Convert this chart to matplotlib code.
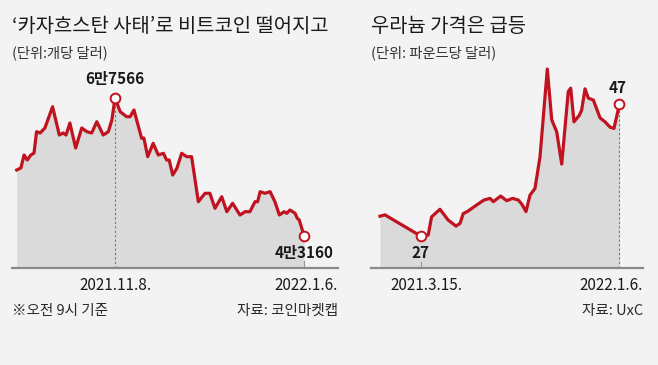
import matplotlib
matplotlib.use("Agg")
import matplotlib.pyplot as plt

plt.rcParams['font.family'] = ['Noto Sans CJK KR', 'DejaVu Sans']

# bitcoin, days counted from 2021-10-08 (USD per coin)
btc_days = [0, 1.3, 2.3, 3.3, 4.4, 5.4, 6.2, 7.3, 8.8, 11.2, 13.3, 14.5, 15.4, 16.6,
            18.4, 20.3, 21.9, 23.4, 25, 27, 28.6, 29.7, 30.7, 32.3, 34.3, 35.4, 36.6,
            39, 39.7, 40.9, 42.6, 44.2, 45.8, 46.8, 47.6, 48.7, 50, 51.5, 53.1, 54.6,
            56.7, 58.8, 60.3, 61.9, 64, 65.6, 67.4, 69.7, 71.3, 72.8, 74.4, 75.2, 76,
            77.5, 79.1, 80.6, 82, 83.5, 84.3, 85.3, 86.9, 87.6, 88.2, 89.7]
btc_vals = [54805, 55159, 57463, 56577, 57463, 57818, 61593, 61363, 62249, 66024,
            61008, 61363, 61008, 63135, 58704, 62249, 61593, 61363, 63365, 61008,
            61593, 63667, 67566, 65138, 64252, 64252, 65439, 60423, 60477, 57162,
            59537, 57463, 57765, 56577, 56577, 53919, 55106, 57765, 57162, 57162,
            49186, 50675, 50675, 48016, 50072, 47414, 48903, 46829, 47414, 47414,
            49186, 49186, 50959, 50675, 50959, 49186, 46829, 47414, 47130, 47715,
            47130, 46244, 45943, 43160]

# uranium, days counted from 2021-01-13 (USD per pound)
u_days = [0, 7.5, 12.4, 60.7, 72, 77, 89.5, 101.9, 113.4, 119.4, 124.3, 130.3, 144.3,
          155.2, 164.2, 169.1, 180.1, 189.1, 198, 206.4, 211.5, 217.9, 223.9, 231.3,
          238.8, 249.7, 256.3, 263.7, 271.2, 281, 284.6, 289.5, 297.5, 301, 306,
          310.9, 318.4, 328.4, 335.8, 343.3, 349.2, 357.4]
u_vals = [30.0, 30.2, 29.9, 27.0, 27.15, 29.9, 31.05, 29.4, 28.5, 28.9, 30.4, 30.7,
          31.7, 32.45, 32.7, 32.2, 33.05, 32.35, 32.7, 32.45, 31.85, 30.7, 33.2, 34.2,
          39.0, 52.3, 44.6, 42.8, 37.9, 48.9, 49.4, 44.3, 45.3, 46.1, 49.3, 47.9, 47.6,
          44.9, 44.3, 43.5, 43.3, 47.0]

W, H = 658, 365
bg = '#f3f3f3'
red = '#c1121f'
fill = '#dadada'

fig = plt.figure(figsize=(W / 100, H / 100), dpi=100, facecolor=bg)


def make_ax(x0, x1, y0, y1):
    ax = fig.add_axes([x0 / W, 1 - y1 / H, (x1 - x0) / W, (y1 - y0) / H])
    ax.set_facecolor(bg)
    for s in ['top', 'right', 'left']:
        ax.spines[s].set_visible(False)
    ax.spines['bottom'].set_color('#8a8a8a')
    ax.spines['bottom'].set_linewidth(1.6)
    ax.set_xticks([])
    ax.set_yticks([])
    return ax


# left: bitcoin
ax1 = make_ax(12, 338, 60, 268)
ax1.set_xlim(-1.47, 100.3)
lo1 = 37435
ax1.set_ylim(lo1, 74301)
ax1.fill_between(btc_days, btc_vals, lo1, color=fill, lw=0)
ax1.plot([30.7, 30.7], [lo1, 67566], color='#777777', lw=0.8, ls=(0, (2, 2)))
ax1.plot([89.7, 89.7], [lo1, 38676], color='#999999', lw=0.8)
ax1.plot(btc_days, btc_vals, color=red, lw=2.3, solid_joinstyle='round')
ax1.plot([30.7, 89.7], [67566, 43160], 'o', ms=7, mfc='white', mec=red, mew=1.4)

# right: uranium
ax2 = make_ax(371, 643, 60, 268)
ax2.set_xlim(-13.4, 392.5)
lo2 = 22.15
ax2.set_ylim(lo2, 53.67)
ax2.fill_between(u_days, u_vals, lo2, color=fill, lw=0)
ax2.plot([357.4, 357.4], [lo2, 47], color='#777777', lw=0.8, ls=(0, (2, 2)))
ax2.plot([60.7, 60.7], [lo2, 23.06], color='#999999', lw=0.8)
ax2.plot(u_days, u_vals, color=red, lw=2.3, solid_joinstyle='round')
ax2.plot([60.7, 357.4], [27, 47], 'o', ms=7, mfc='white', mec=red, mew=1.4)


def t(x, y, s, **kw):
    fig.text(x / W, 1 - y / H, s, **kw)


dark = '#1a1a1a'
t(12, 26, "‘카자흐스탄 사태’로 비트코인 떨어지고", fontsize=14.3, color=dark, va='center',
  fontweight='medium')
t(371, 26, "우라늄 가격은 급등", fontsize=14.3, color=dark, va='center', fontweight='medium')
t(12, 53, "(단위:개당 달러)", fontsize=10.3, color='#333333', va='center')
t(371, 53, "(단위: 파운드당 달러)", fontsize=10.3, color='#333333', va='center')

t(115, 79, "6만7566", fontsize=11, fontweight='bold', color=dark, ha='center', va='center')
t(304, 253, "4만3160", fontsize=11, fontweight='bold', color=dark, ha='center', va='center')
t(421, 253, "27", fontsize=11, fontweight='bold', color=dark, ha='center', va='center')
t(618, 88, "47", fontsize=11, fontweight='bold', color=dark, ha='center', va='center')

t(116, 285, "2021.11.8.", fontsize=11, color=dark, ha='center', va='center')
t(338, 285, "2022.1.6.", fontsize=11, color=dark, ha='right', va='center')
t(426, 285, "2021.3.15.", fontsize=11, color=dark, ha='center', va='center')
t(643, 285, "2022.1.6.", fontsize=11, color=dark, ha='right', va='center')

t(12, 311, "※오전 9시 기준", fontsize=10.5, color='#2a2a2a', va='center')
t(338, 311, "자료: 코인마켓캡", fontsize=10.5, color='#2a2a2a', ha='right', va='center')
t(643, 311, "자료: UxC", fontsize=10.5, color='#2a2a2a', ha='right', va='center')

fig.savefig('out.png', dpi=100, facecolor=bg)
